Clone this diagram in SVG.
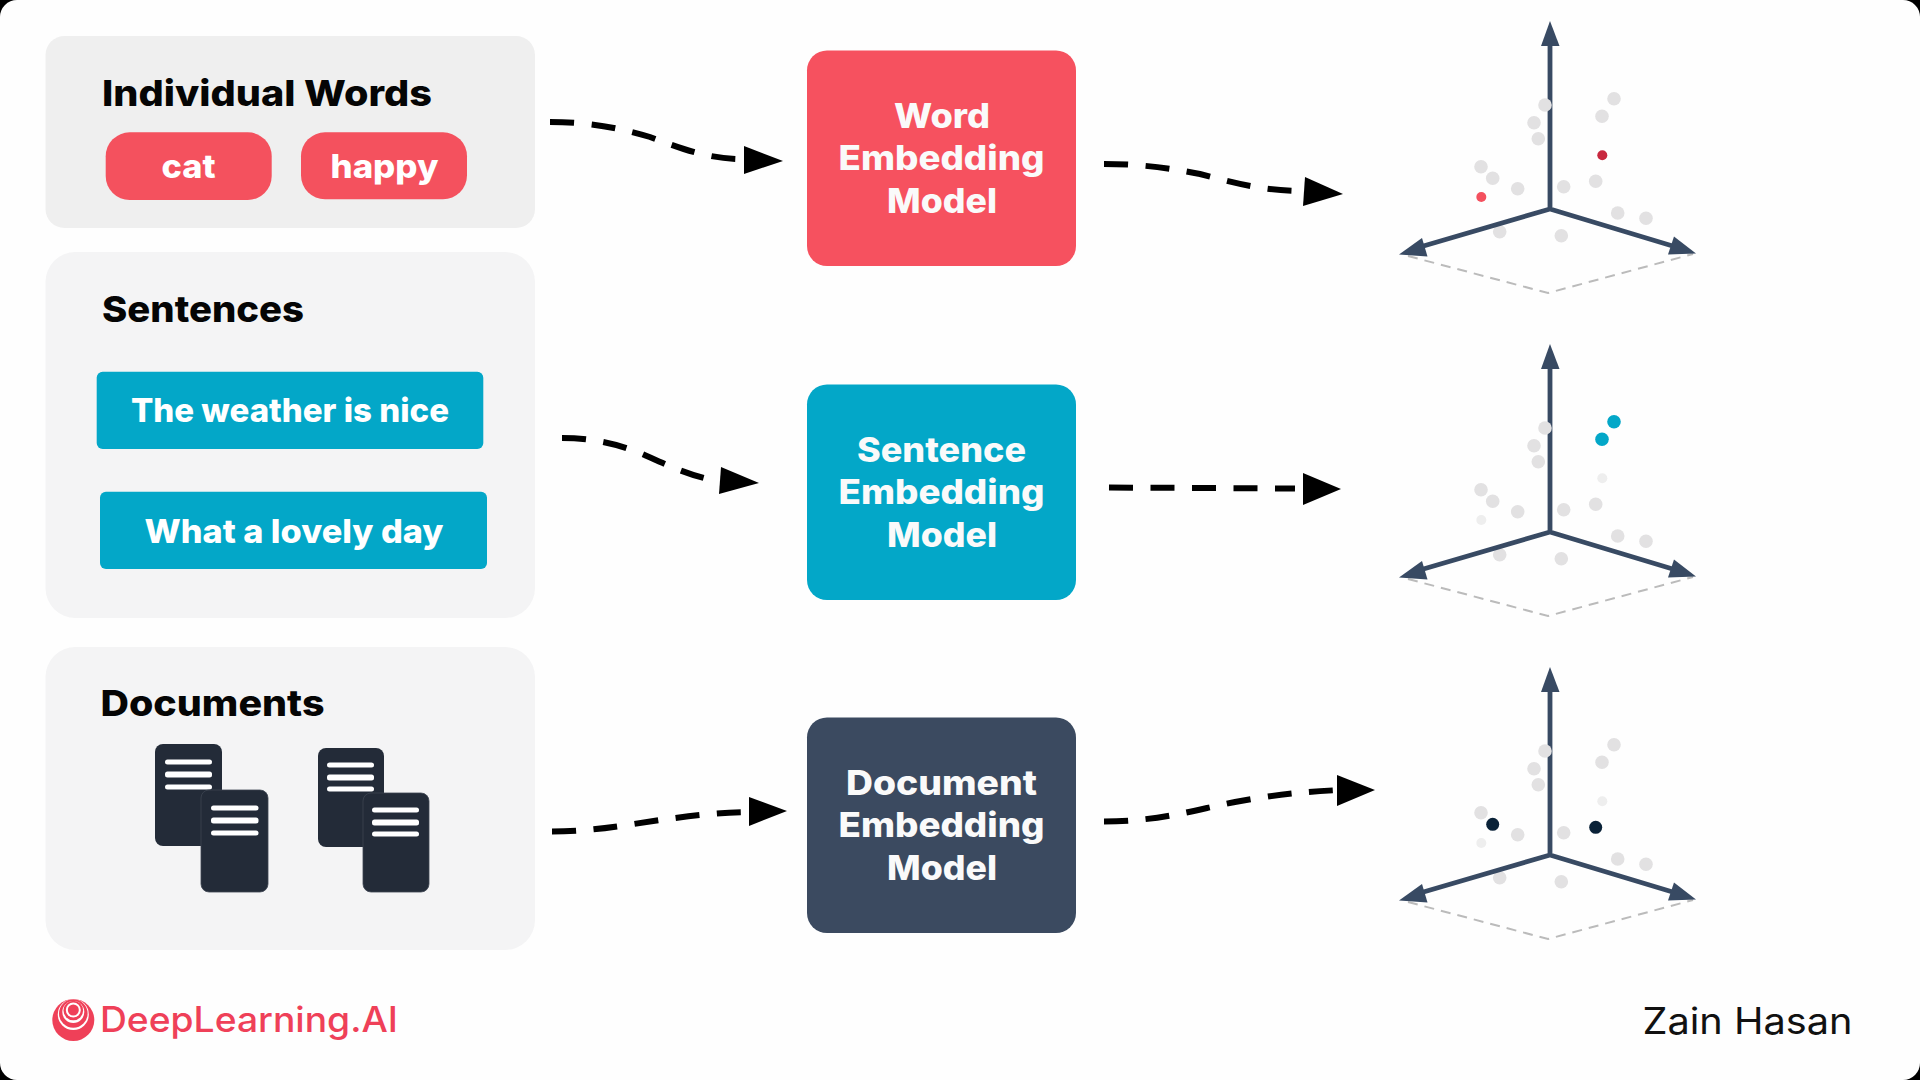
<svg xmlns="http://www.w3.org/2000/svg" xmlns:xlink="http://www.w3.org/1999/xlink" width="1920" height="1080" viewBox="0 0 1920 1080">
<style>
text{font-family:Inter,"Liberation Sans",sans-serif}
.h{font-size:36px;font-weight:800;fill:#050505}
.w{font-size:33px;font-weight:800;fill:#fff}
.m{font-size:34px;font-weight:800;fill:#fafafa}
.dash{fill:none;stroke:#000;stroke-width:6;stroke-dasharray:24 17.500}
.head{fill:#000}
.ax{stroke:#384a63;stroke-width:4.800;fill:none}
.axh{fill:#384a63}
.fl{fill:none;stroke:#bbb;stroke-width:2;stroke-dasharray:10 7}
.g{fill:#e2e1e2}
.f{fill:#eeeeee}
.doc{fill:#232b38}
.ln{fill:#fff}
</style>
<defs>
<g id="axes">
<path class="fl" d="M1408 256L1548 293L1693 254"/>
<path class="ax" d="M1550 209V44M1550 209L1420 247M1550 209L1676 247"/>
<path class="axh" d="M1550 21L1559.500 46H1541z"/>
<path class="axh" d="M1399 254.500L1422 238L1427.500 256.500z"/>
<path class="axh" d="M1696 253.500L1674 236.500L1668 254.500z"/>
</g>
<g id="base">
<circle class="g" cx="1534" cy="122.700" r="6.800"/><circle class="g" cx="1538.300" cy="138.700" r="6.800"/>
<circle class="g" cx="1481" cy="166.700" r="6.800"/><circle class="g" cx="1517.700" cy="188.700" r="6.800"/><circle class="g" cx="1563.700" cy="186.700" r="6.800"/>
<circle class="g" cx="1617.700" cy="213" r="6.800"/><circle class="g" cx="1646" cy="218.300" r="6.800"/><circle class="g" cx="1499.700" cy="231.700" r="6.800"/><circle class="g" cx="1561.300" cy="235.700" r="6.800"/>
</g>
</defs>
<rect width="1920" height="1080" fill="#000"/>
<rect width="1920" height="1080" rx="17" fill="#fefefe"/>

<g id="panel-words">
<rect x="45.500" y="36" width="489.500" height="192" rx="19" fill="#efefef"/>
<text class="h" x="102" y="106" textLength="330" lengthAdjust="spacingAndGlyphs">Individual Words</text>
</g>
<g id="word-cat"><rect x="105.700" y="132.300" width="166" height="67.700" rx="24" fill="#f4515e"/>
<text class="w" x="161.500" y="178" textLength="54" lengthAdjust="spacingAndGlyphs">cat</text></g>
<g id="word-happy"><rect x="301" y="132.300" width="166" height="67" rx="24" fill="#f4515e"/>
<text class="w" x="330.500" y="178" textLength="108" lengthAdjust="spacingAndGlyphs">happy</text></g>

<g id="panel-sentences">
<rect x="45.500" y="252" width="489.500" height="366" rx="30" fill="#f4f4f5"/>
<text class="h" x="102" y="322" textLength="202" lengthAdjust="spacingAndGlyphs">Sentences</text>
</g>
<g id="sentence-1"><rect x="96.700" y="371.700" width="386.600" height="77.300" rx="6" fill="#03a7c8"/>
<text class="w" x="131" y="422" textLength="318" lengthAdjust="spacingAndGlyphs">The weather is nice</text></g>
<g id="sentence-2"><rect x="100" y="491.700" width="387" height="77.300" rx="6" fill="#03a7c8"/>
<text class="w" x="144.500" y="542.500" textLength="299" lengthAdjust="spacingAndGlyphs">What a lovely day</text></g>

<g id="panel-documents">
<rect x="45.500" y="647" width="489.500" height="303" rx="30" fill="#f4f4f5"/>
<text class="h" x="100.500" y="716" textLength="224" lengthAdjust="spacingAndGlyphs">Documents</text>
</g>
<g id="docs-a">
<rect class="doc" x="155" y="744" width="67" height="102" rx="8"/>
<rect class="ln" x="165" y="759.500" width="47" height="5" rx="2.500"/><rect class="ln" x="165" y="771.500" width="47" height="6" rx="2.500"/><rect class="ln" x="165" y="784.500" width="47" height="5" rx="2.500"/>
<rect class="doc" x="201" y="790" width="67" height="102" rx="8" stroke="#3d4552" stroke-width=".8"/>
<rect class="ln" x="211" y="805.500" width="47.500" height="5" rx="2.500"/><rect class="ln" x="211" y="817.500" width="47.500" height="6" rx="2.500"/><rect class="ln" x="211" y="830.500" width="47.500" height="5" rx="2.500"/>
</g>
<g id="docs-b">
<rect class="doc" x="318" y="748" width="66" height="99" rx="8"/>
<rect class="ln" x="327" y="762.500" width="47" height="5" rx="2.500"/><rect class="ln" x="327" y="774.500" width="47" height="6" rx="2.500"/><rect class="ln" x="327" y="786.500" width="47" height="5" rx="2.500"/>
<rect class="doc" x="363" y="793" width="66" height="99" rx="8" stroke="#3d4552" stroke-width=".8"/>
<rect class="ln" x="372" y="807.500" width="47" height="5" rx="2.500"/><rect class="ln" x="372" y="819.500" width="47" height="6" rx="2.500"/><rect class="ln" x="372" y="831.500" width="47" height="5" rx="2.500"/>
</g>

<g id="model-word">
<rect x="807" y="50.500" width="269" height="215.500" rx="20" fill="#f6515f"/>
<text class="m" x="894" y="127.500" textLength="96" lengthAdjust="spacingAndGlyphs">Word</text>
<text class="m" x="838.500" y="170" textLength="206" lengthAdjust="spacingAndGlyphs">Embedding</text>
<text class="m" x="887" y="212.500" textLength="110" lengthAdjust="spacingAndGlyphs">Model</text>
</g>
<g id="model-sentence">
<rect x="807" y="384.500" width="269" height="215.500" rx="20" fill="#03a7c8"/>
<text class="m" x="857" y="461.500" textLength="169" lengthAdjust="spacingAndGlyphs">Sentence</text>
<text class="m" x="838.500" y="504" textLength="206" lengthAdjust="spacingAndGlyphs">Embedding</text>
<text class="m" x="887" y="546.500" textLength="110" lengthAdjust="spacingAndGlyphs">Model</text>
</g>
<g id="model-document">
<rect x="807" y="717.500" width="269" height="215.500" rx="20" fill="#3b4a60"/>
<text class="m" x="846" y="794.500" textLength="191" lengthAdjust="spacingAndGlyphs">Document</text>
<text class="m" x="838.500" y="837" textLength="206" lengthAdjust="spacingAndGlyphs">Embedding</text>
<text class="m" x="887" y="879.500" textLength="110" lengthAdjust="spacingAndGlyphs">Model</text>
</g>

<g id="connectors">
<path class="dash" d="M550 122C590 122 620 128 650 137C680 148 705 158 738 159"/><path class="head" d="M744 146L783 161L744 174z"/>
<path class="dash" d="M1104 164C1140 164 1170 168 1200 174C1235 183 1260 190 1298 191"/><path class="head" d="M1305 177L1343 194L1303 206z"/>
<path class="dash" d="M562 438C590 438 615 443 640 453C665 464 685 474 712 480"/><path class="head" d="M721 467L759 483L719 494z"/>
<path class="dash" d="M1109 487.500L1295 488.500"/><path class="head" d="M1303 473L1341 489L1303 505z"/>
<path class="dash" d="M552 831.500C590 831.500 620 826 660 820C690 816 720 812 752 812"/><path class="head" d="M749 797L787 811L749 826z"/>
<path class="dash" d="M1104 821.500C1160 821 1190 811 1235 802C1280 794 1300 792 1340 790"/><path class="head" d="M1337 775L1375 790L1337 806z"/>
</g>

<g id="chart-word">
<use xlink:href="#base" href="#base"/>
<use xlink:href="#axes" href="#axes"/>
<circle class="g" cx="1545" cy="105" r="6.800"/>
<circle class="g" cx="1614" cy="98.700" r="6.800"/><circle class="g" cx="1602" cy="116.300" r="6.800"/>
<circle class="g" cx="1492.700" cy="178.300" r="6.800"/><circle class="g" cx="1595.700" cy="181.300" r="6.800"/>
<circle cx="1602.300" cy="155.300" r="5" fill="#c8283f"/><circle cx="1481.300" cy="197" r="5" fill="#f4505e"/>
</g>
<g id="chart-sentence" transform="translate(0 323)">
<use xlink:href="#base" href="#base"/>
<use xlink:href="#axes" href="#axes"/>
<circle class="g" cx="1545" cy="105" r="6.800"/>
<circle class="g" cx="1492.700" cy="178.300" r="6.800"/><circle class="g" cx="1595.700" cy="181.300" r="6.800"/>
<circle class="f" cx="1602.300" cy="155.300" r="5"/><circle class="f" cx="1481.300" cy="197" r="5"/>
<circle cx="1614" cy="98.700" r="6.800" fill="#03a7c8"/><circle cx="1602" cy="116.300" r="6.800" fill="#03a7c8"/>
</g>
<g id="chart-document" transform="translate(0 646)">
<use xlink:href="#base" href="#base"/>
<use xlink:href="#axes" href="#axes"/>
<circle class="g" cx="1545" cy="105" r="6.800"/>
<circle class="g" cx="1614" cy="98.700" r="6.800"/><circle class="g" cx="1602" cy="116.300" r="6.800"/>
<circle class="f" cx="1602.300" cy="155.300" r="5"/><circle class="f" cx="1481.300" cy="197" r="5"/>
<circle cx="1492.700" cy="178.300" r="6.500" fill="#0a2238"/><circle cx="1595.700" cy="181.300" r="6.500" fill="#0a2238"/>
</g>

<g id="logo">
<circle cx="73.300" cy="1020" r="21" fill="#ef4058"/>
<circle cx="73.300" cy="1014.500" r="15.500" fill="#fff"/><circle cx="73.300" cy="1013.500" r="14.300" fill="#ef4058"/>
<circle cx="73.300" cy="1012" r="11" fill="#fff"/><circle cx="73.300" cy="1010.500" r="9.800" fill="#ef4058"/>
<circle cx="73.300" cy="1010" r="7.500" fill="#fff"/><circle cx="73.300" cy="1010" r="5.500" fill="#ef4058"/>
<text x="100" y="1032" font-size="35" font-weight="500" fill="#ef4058" textLength="298" lengthAdjust="spacingAndGlyphs">DeepLearning.AI</text>
</g>
<g id="author"><text x="1642.500" y="1034" font-size="37" font-weight="400" fill="#111" textLength="210" lengthAdjust="spacingAndGlyphs">Zain Hasan</text></g>
</svg>
